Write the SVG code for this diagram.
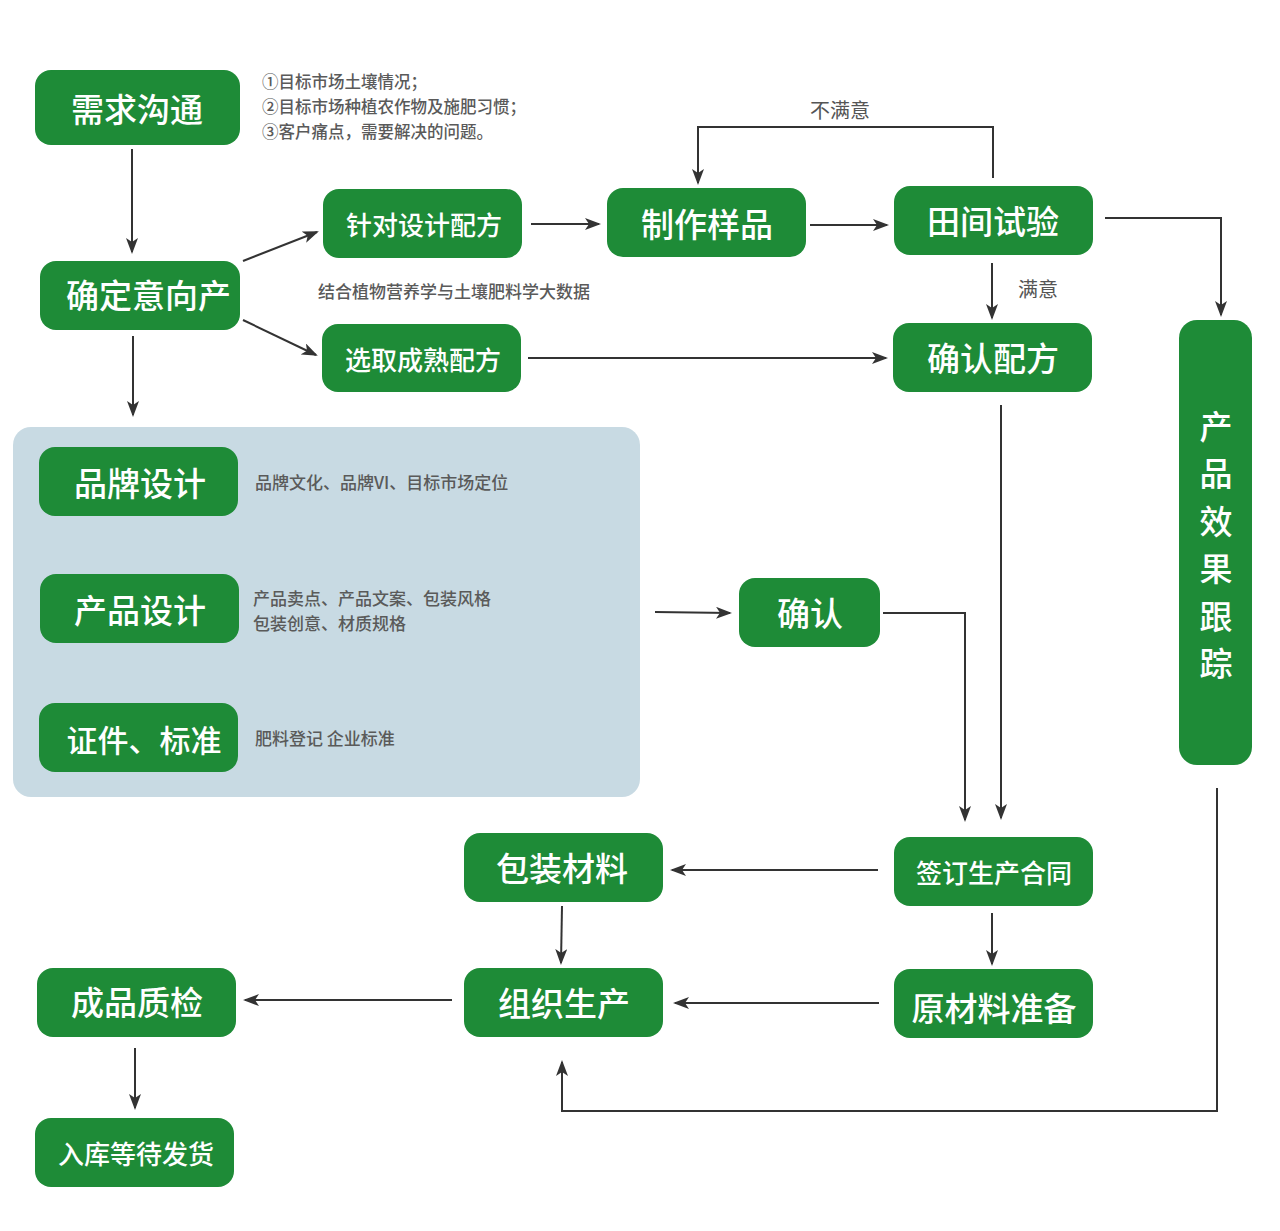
<svg xmlns="http://www.w3.org/2000/svg" width="1280" height="1231" viewBox="0 0 1280 1231">
<style>
.n{fill:#1e8b37}
.t{fill:#fff;font-family:"Noto Sans CJK SC","Noto Sans",sans-serif;font-weight:500;font-size:33px;text-anchor:middle;dominant-baseline:central}
.ts{font-size:26px}
.s{fill:#5a5a5a;font-family:"Noto Sans CJK SC","Noto Sans",sans-serif;font-size:17px;font-weight:500}
.s16{font-size:16.5px}
.l{fill:#555;font-family:"Noto Sans CJK SC","Noto Sans",sans-serif;font-size:20px}
.c{fill:none;stroke:#333;stroke-width:2;marker-end:url(#a)}
</style>
<defs>
<marker id="a" markerUnits="userSpaceOnUse" markerWidth="16" markerHeight="12" refX="14" refY="6" orient="auto">
<path d="M0,0 L16,6 L0,12 L4,6 Z" fill="#333"/>
</marker>
<clipPath id="cq"><rect x="40" y="261" width="200" height="69" rx="16"/></clipPath>
</defs>
<rect width="1280" height="1231" fill="#fff"/>
<rect id="panel" x="13" y="427" width="627" height="370" rx="18" fill="#c8dae3"/>

<g id="connectors">
<path class="c" d="M132,149 V252"/>
<path class="c" d="M243,261 L317,232"/>
<path class="c" d="M243,320 L316,355"/>
<path class="c" d="M133,336 V415"/>
<path class="c" d="M531,224 H599"/>
<path class="c" d="M810,225 H887"/>
<path class="c" d="M993,178 V127 H698 V183"/>
<path class="c" d="M992,263 V318"/>
<path class="c" d="M528,358 H886"/>
<path class="c" d="M1105,218 H1221 V315"/>
<path class="c" d="M1001,405 V818"/>
<path class="c" d="M655,612 L730,613"/>
<path class="c" d="M883,613 H965 V820"/>
<path class="c" d="M878,870 H672"/>
<path class="c" d="M992,913 V964"/>
<path class="c" d="M562,906 L561,963"/>
<path class="c" d="M879,1003 H675"/>
<path class="c" d="M452,1000 H245"/>
<path class="c" d="M135,1048 V1108"/>
<path class="c" d="M1217,788 V1111 H562 V1062"/>
<text class="l" x="840" y="118" text-anchor="middle">不满意</text>
<text class="l" x="1038" y="297" text-anchor="middle">满意</text>
</g>

<g id="n1"><rect class="n" x="35" y="70" width="205" height="75" rx="16"/><text class="t" x="137" y="108">需求沟通</text></g>
<g id="note1">
<text class="s s16" x="262" y="88">①目标市场土壤情况；</text>
<text class="s s16" x="262" y="113">②目标市场种植农作物及施肥习惯；</text>
<text class="s s16" x="262" y="138">③客户痛点，需要解决的问题。</text>
</g>
<g id="n2"><rect class="n" x="40" y="261" width="200" height="69" rx="16"/><text class="t" x="66" y="294" style="text-anchor:start" clip-path="url(#cq)">确定意向产</text></g>
<g id="n3"><rect class="n" x="323" y="189" width="199" height="69" rx="16"/><text class="t ts" x="424" y="223">针对设计配方</text></g>
<g id="note2"><text class="s" x="318" y="298">结合植物营养学与土壤肥料学大数据</text></g>
<g id="n4"><rect class="n" x="322" y="324" width="199" height="68" rx="16"/><text class="t ts" x="423" y="358">选取成熟配方</text></g>
<g id="n5"><rect class="n" x="607" y="188" width="199" height="69" rx="16"/><text class="t" x="707" y="223">制作样品</text></g>
<g id="n6"><rect class="n" x="894" y="186" width="199" height="69" rx="16"/><text class="t" x="993" y="220">田间试验</text></g>
<g id="n7"><rect class="n" x="893" y="323" width="199" height="69" rx="16"/><text class="t" x="993" y="357">确认配方</text></g>
<g id="n8"><rect class="n" x="1179" y="320" width="73" height="445" rx="18"/>
<text class="t" x="1216" y="425">产</text><text class="t" x="1216" y="472">品</text><text class="t" x="1216" y="520">效</text><text class="t" x="1216" y="567">果</text><text class="t" x="1216" y="615">跟</text><text class="t" x="1216" y="662">踪</text></g>
<g id="n9"><rect class="n" x="39" y="447" width="199" height="69" rx="16"/><text class="t" x="140" y="482">品牌设计</text></g>
<g id="note3"><text class="s" x="255" y="489">品牌文化、品牌VI、目标市场定位</text></g>
<g id="n10"><rect class="n" x="40" y="574" width="199" height="69" rx="16"/><text class="t" x="140" y="609">产品设计</text></g>
<g id="note4"><text class="s" x="253" y="605">产品卖点、产品文案、包装风格</text><text class="s" x="253" y="630">包装创意、材质规格</text></g>
<g id="n11"><rect class="n" x="39" y="703" width="199" height="69" rx="16"/><text class="t" x="144" y="738" style="font-size:31px">证件、标准</text></g>
<g id="note5"><text class="s" x="255" y="745">肥料登记 企业标准</text></g>
<g id="n12"><rect class="n" x="739" y="578" width="141" height="69" rx="16"/><text class="t" x="810" y="612">确认</text></g>
<g id="n13"><rect class="n" x="464" y="833" width="199" height="69" rx="16"/><text class="t" x="562" y="867">包装材料</text></g>
<g id="n14"><rect class="n" x="894" y="837" width="199" height="69" rx="16"/><text class="t ts" x="994" y="871">签订生产合同</text></g>
<g id="n15"><rect class="n" x="464" y="968" width="199" height="69" rx="16"/><text class="t" x="564" y="1002">组织生产</text></g>
<g id="n16"><rect class="n" x="894" y="969" width="199" height="69" rx="16"/><text class="t" x="994" y="1007">原材料准备</text></g>
<g id="n17"><rect class="n" x="37" y="968" width="199" height="69" rx="16"/><text class="t" x="137" y="1001">成品质检</text></g>
<g id="n18"><rect class="n" x="35" y="1118" width="199" height="69" rx="16"/><text class="t ts" x="136" y="1152">入库等待发货</text></g>
</svg>
